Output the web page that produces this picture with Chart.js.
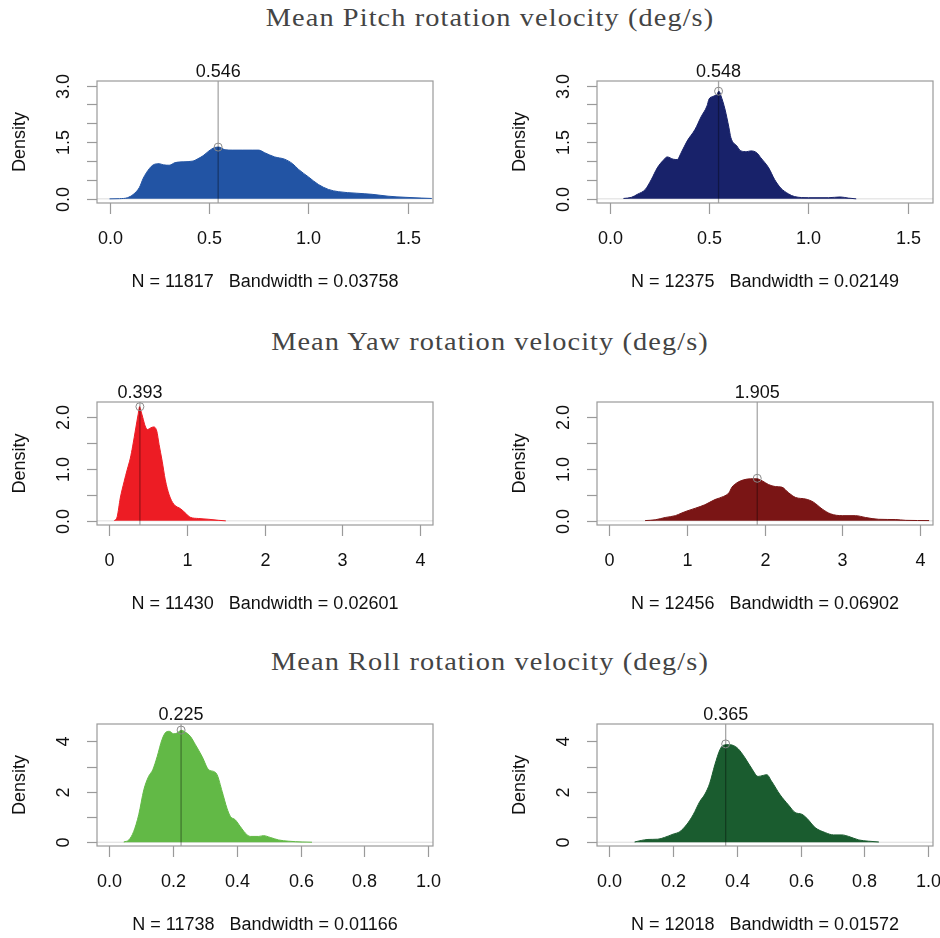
<!DOCTYPE html>
<html lang="en">
<head>
<meta charset="UTF-8">
<title>Mean rotation velocity densities</title>
<script src="https://cdn.jsdelivr.net/npm/chart.js"></script>
<style>
  body { margin: 0; background: #fff; }
  #page { position: relative; width: 940px; height: 938px; overflow: hidden; background: #fff; }
  .section {
    position: absolute; left: 20px; width: 940px; text-align: center;
    font-family: "Liberation Serif", "DejaVu Serif", serif; font-size: 26px;
    letter-spacing: 1px; transform: scaleX(1.09); transform-origin: 470px 0;
    color: #444; line-height: 30px;
  }
  canvas { position: absolute; }
</style>
</head>
<body>
<div id="page">
  <div class="section" style="top:3px">Mean Pitch rotation velocity (deg/s)</div>
  <div class="section" style="top:327px">Mean Yaw rotation velocity (deg/s)</div>
  <div class="section" style="top:647px">Mean Roll rotation velocity (deg/s)</div>
</div>

<script>
// density curves (x = deg/s, y = density)
const pitchLeftX = [0.00, 0.05, 0.09, 0.12, 0.15, 0.17, 0.20, 0.22, 0.25, 0.27, 0.30, 0.33, 0.37, 0.42, 0.44, 0.47, 0.50, 0.53, 0.55, 0.58, 0.62, 0.67, 0.72, 0.75, 0.78, 0.83, 0.88, 0.92, 0.95, 1.00, 1.05, 1.10, 1.15, 1.24, 1.32, 1.40, 1.49, 1.57, 1.62];
const pitchLeftY = [0, 0.005, 0.03, 0.12, 0.30, 0.55, 0.80, 0.90, 0.93, 0.90, 0.89, 0.96, 0.98, 1.00, 1.05, 1.14, 1.27, 1.36, 1.37, 1.30, 1.29, 1.29, 1.29, 1.29, 1.22, 1.11, 1.05, 0.93, 0.78, 0.58, 0.38, 0.25, 0.19, 0.15, 0.12, 0.07, 0.04, 0.02, 0.01];

const pitchRightX = [0.07, 0.11, 0.14, 0.18, 0.21, 0.24, 0.27, 0.29, 0.32, 0.34, 0.36, 0.39, 0.43, 0.46, 0.49, 0.50, 0.52, 0.54, 0.55, 0.56, 0.58, 0.60, 0.61, 0.64, 0.66, 0.69, 0.71, 0.74, 0.76, 0.80, 0.83, 0.86, 0.90, 0.93, 1.00, 1.10, 1.16, 1.20, 1.24];
const pitchRightY = [0.01, 0.04, 0.12, 0.25, 0.51, 0.82, 1.02, 1.11, 1.05, 1.04, 1.22, 1.53, 1.84, 2.17, 2.46, 2.64, 2.71, 2.77, 2.85, 2.73, 2.38, 1.89, 1.62, 1.40, 1.27, 1.25, 1.27, 1.22, 1.09, 0.82, 0.51, 0.29, 0.13, 0.06, 0.03, 0.03, 0.05, 0.02, 0];

const yawLeftX = [0.06, 0.10, 0.14, 0.19, 0.23, 0.27, 0.30, 0.34, 0.37, 0.39, 0.40, 0.43, 0.46, 0.49, 0.53, 0.57, 0.61, 0.64, 0.68, 0.72, 0.77, 0.83, 0.92, 0.98, 1.04, 1.15, 1.28, 1.41, 1.50];
const yawLeftY = [0, 0.08, 0.44, 0.76, 0.99, 1.21, 1.44, 1.79, 2.05, 2.20, 2.15, 1.99, 1.83, 1.76, 1.79, 1.81, 1.73, 1.47, 1.15, 0.79, 0.50, 0.32, 0.23, 0.15, 0.07, 0.045, 0.03, 0.01, 0];

const yawRightX = [0.46, 0.59, 0.72, 0.85, 0.93, 1.00, 1.11, 1.23, 1.36, 1.47, 1.54, 1.58, 1.64, 1.73, 1.82, 1.90, 1.97, 2.05, 2.14, 2.22, 2.31, 2.40, 2.53, 2.63, 2.74, 2.85, 3.00, 3.17, 3.30, 3.47, 3.69, 3.82, 4.12];
const yawRightY = [0.005, 0.02, 0.065, 0.10, 0.15, 0.19, 0.245, 0.31, 0.41, 0.47, 0.54, 0.65, 0.73, 0.79, 0.81, 0.81, 0.77, 0.70, 0.66, 0.65, 0.54, 0.45, 0.42, 0.36, 0.23, 0.135, 0.10, 0.10, 0.065, 0.03, 0.025, 0.01, 0.005];

const rollLeftX = [0.045, 0.061, 0.076, 0.092, 0.108, 0.123, 0.136, 0.150, 0.165, 0.178, 0.188, 0.202, 0.212, 0.226, 0.238, 0.254, 0.270, 0.291, 0.312, 0.327, 0.338, 0.354, 0.369, 0.380, 0.395, 0.411, 0.427, 0.442, 0.469, 0.484, 0.505, 0.531, 0.563, 0.605, 0.636];
const rollLeftY = [0.01, 0.09, 0.42, 1.09, 2.08, 2.61, 2.87, 3.40, 4.07, 4.37, 4.40, 4.30, 4.33, 4.44, 4.37, 4.20, 3.87, 3.40, 2.87, 2.81, 2.68, 2.01, 1.35, 1.02, 0.89, 0.62, 0.36, 0.23, 0.23, 0.26, 0.19, 0.09, 0.04, 0.01, 0];

const rollRightX = [0.079, 0.100, 0.121, 0.152, 0.173, 0.200, 0.221, 0.242, 0.263, 0.284, 0.300, 0.315, 0.331, 0.347, 0.357, 0.373, 0.389, 0.404, 0.425, 0.446, 0.467, 0.483, 0.494, 0.509, 0.536, 0.562, 0.583, 0.604, 0.620, 0.646, 0.678, 0.704, 0.730, 0.751, 0.783, 0.814, 0.846];
const rollRightY = [0.01, 0.07, 0.11, 0.12, 0.19, 0.32, 0.42, 0.69, 1.09, 1.62, 1.91, 2.34, 3.07, 3.67, 3.84, 3.87, 3.84, 3.71, 3.36, 2.94, 2.61, 2.65, 2.68, 2.42, 1.88, 1.48, 1.18, 1.11, 0.95, 0.58, 0.38, 0.29, 0.29, 0.23, 0.09, 0.04, 0.01];

// per panel annotations (left-to-right, top-to-bottom)
const meanValues  = [0.546, 0.548, 0.393, 1.905, 0.225, 0.365];
const meanLabels  = ['0.546', '0.548', '0.393', '1.905', '0.225', '0.365'];
const meanDensity = [1.37, 2.85, 2.20, 0.82, 4.45, 3.90];
const sampleSizes = [11817, 12375, 11430, 12456, 11738, 12018];
const bandwidths  = ['0.03758', '0.02149', '0.02601', '0.06902', '0.01166', '0.01572'];
const fillColors  = ['#2254a4', '#18226a', '#ed1c24', '#7a1515', '#62b946', '#1a5c2f'];

// axis ticks for each row
const xTicksPitch = [0, 0.5, 1.0, 1.5];
const xLabelsPitch = ['0.0', '0.5', '1.0', '1.5'];
const yTicksPitch = [0, 0.5, 1.0, 1.5, 2.0, 2.5, 3.0];
const yLabelsPitch = { 0: '0.0', 1.5: '1.5', 3: '3.0' };

const xTicksYaw = [0, 1, 2, 3, 4];
const xLabelsYaw = ['0', '1', '2', '3', '4'];
const yTicksYaw = [0, 0.5, 1.0, 1.5, 2.0];
const yLabelsYaw = { 0: '0.0', 1: '1.0', 2: '2.0' };

const xTicksRoll = [0, 0.2, 0.4, 0.6, 0.8, 1.0];
const xLabelsRoll = ['0.0', '0.2', '0.4', '0.6', '0.8', '1.0'];
const yTicksRoll = [0, 1, 2, 3, 4];
const yLabelsRoll = { 0: '0', 2: '2', 4: '4' };

// layout of the page
const rows = [
  { top: 40,  height: 260, boxTop: 81,  boxBottom: 203, xMin: -0.063, xMax: 1.626, yMin: -0.11, yMax: 3.12,
    xTicks: xTicksPitch, xLabels: xLabelsPitch, yTicks: yTicksPitch, yLabels: yLabelsPitch },
  { top: 360, height: 260, boxTop: 402, boxBottom: 525, xMin: -0.16, xMax: 4.17, yMin: -0.08, yMax: 2.29,
    xTicks: xTicksYaw, xLabels: xLabelsYaw, yTicks: yTicksYaw, yLabels: yLabelsYaw },
  { top: 680, height: 258, boxTop: 724, boxBottom: 846, xMin: -0.039, xMax: 1.016, yMin: -0.15, yMax: 4.69,
    xTicks: xTicksRoll, xLabels: xLabelsRoll, yTicks: yTicksRoll, yLabels: yLabelsRoll }
];
const cols = [{ left: 0, boxLeft: 97 }, { left: 470, boxLeft: 597 }];
const BOX_W = 336;

const curves = [
  [pitchLeftX, pitchLeftY], [pitchRightX, pitchRightY],
  [yawLeftX, yawLeftY], [yawRightX, yawRightY],
  [rollLeftX, rollLeftY], [rollRightX, rollRightY]
];

const FONT = '"Liberation Sans", Arial, Helvetica, sans-serif';

function makeFurniture(row, idx) {
  return {
    id: 'furniture',
    beforeDatasetsDraw(chart) {
      const { ctx, chartArea: a, scales: { y } } = chart;
      const y0 = y.getPixelForValue(0);
      ctx.save();
      ctx.strokeStyle = '#dcdcdc';
      ctx.lineWidth = 1;
      ctx.beginPath();
      ctx.moveTo(a.left, y0);
      ctx.lineTo(a.right, y0);
      ctx.stroke();
      ctx.restore();
    },
    afterDraw(chart) {
      const { ctx, chartArea: a, scales: { x, y } } = chart;
      ctx.save();
      // box
      ctx.strokeStyle = '#9a9a9a';
      ctx.lineWidth = 1.2;
      ctx.strokeRect(a.left, a.top, a.right - a.left, a.bottom - a.top);

      ctx.fillStyle = '#111';
      ctx.font = '18px ' + FONT;

      // x ticks
      ctx.textAlign = 'center';
      ctx.textBaseline = 'middle';
      row.xTicks.forEach((v, i) => {
        const px = Math.round(x.getPixelForValue(v)) + 0.5;
        ctx.beginPath();
        ctx.moveTo(px, a.bottom);
        ctx.lineTo(px, a.bottom + 11);
        ctx.stroke();
        ctx.fillText(row.xLabels[i], px, a.bottom + 36);
      });

      // y ticks, labels rotated like base R
      row.yTicks.forEach(v => {
        const py = Math.round(y.getPixelForValue(v)) + 0.5;
        ctx.beginPath();
        ctx.moveTo(a.left, py);
        ctx.lineTo(a.left - 10, py);
        ctx.stroke();
        const lab = row.yLabels[v];
        if (lab !== undefined) {
          ctx.save();
          ctx.translate(a.left - 33, py);
          ctx.rotate(-Math.PI / 2);
          ctx.fillText(lab, 0, 0);
          ctx.restore();
        }
      });

      // axis title
      ctx.save();
      ctx.translate(a.left - 77, (a.top + a.bottom) / 2);
      ctx.rotate(-Math.PI / 2);
      ctx.fillText('Density', 0, 0);
      ctx.restore();

      // sub title
      ctx.fillText('N = ' + sampleSizes[idx] + '   Bandwidth = ' + bandwidths[idx],
        (a.left + a.right) / 2, a.bottom + 79);

      // mean label
      ctx.fillText(meanLabels[idx], x.getPixelForValue(meanValues[idx]), a.top - 9);
      ctx.restore();
    }
  };
}

rows.forEach((row, r) => {
  cols.forEach((col, c) => {
    const idx = r * 2 + c;
    const canvas = document.createElement('canvas');
    canvas.width = 470;
    canvas.height = row.height;
    canvas.style.left = col.left + 'px';
    canvas.style.top = row.top + 'px';
    document.getElementById('page').appendChild(canvas);

    const [xs, ys] = curves[idx];
    const mean = meanValues[idx];

    new Chart(canvas, {
      type: 'line',
      data: {
        datasets: [
          {
            data: xs.map((v, i) => ({ x: v, y: ys[i] })),
            fill: 'origin',
            backgroundColor: fillColors[idx],
            borderColor: fillColors[idx],
            borderWidth: 1,
            pointRadius: 0,
            cubicInterpolationMode: 'monotone',
            order: 3
          },
          {
            data: [{ x: mean, y: row.yMin }, { x: mean, y: row.yMax }],
            borderColor: 'rgba(0,0,0,0.35)',
            borderWidth: 1.3,
            pointRadius: 0,
            fill: false,
            order: 2
          },
          {
            type: 'scatter',
            data: [{ x: mean, y: meanDensity[idx] }],
            pointRadius: 4,
            pointBorderColor: '#8a8a8a',
            pointBackgroundColor: 'rgba(0,0,0,0)',
            pointBorderWidth: 1,
            order: 1
          }
        ]
      },
      options: {
        responsive: false,
        animation: false,
        devicePixelRatio: 1,
        events: [],
        layout: {
          padding: {
            left: col.boxLeft - col.left,
            right: col.left + 470 - (col.boxLeft + BOX_W),
            top: row.boxTop - row.top,
            bottom: row.top + row.height - row.boxBottom
          }
        },
        plugins: { legend: { display: false }, tooltip: { enabled: false } },
        scales: {
          x: { type: 'linear', min: row.xMin, max: row.xMax, display: false },
          y: { type: 'linear', min: row.yMin, max: row.yMax, display: false }
        }
      },
      plugins: [makeFurniture(row, idx)]
    });
  });
});
</script>
</body>
</html>
